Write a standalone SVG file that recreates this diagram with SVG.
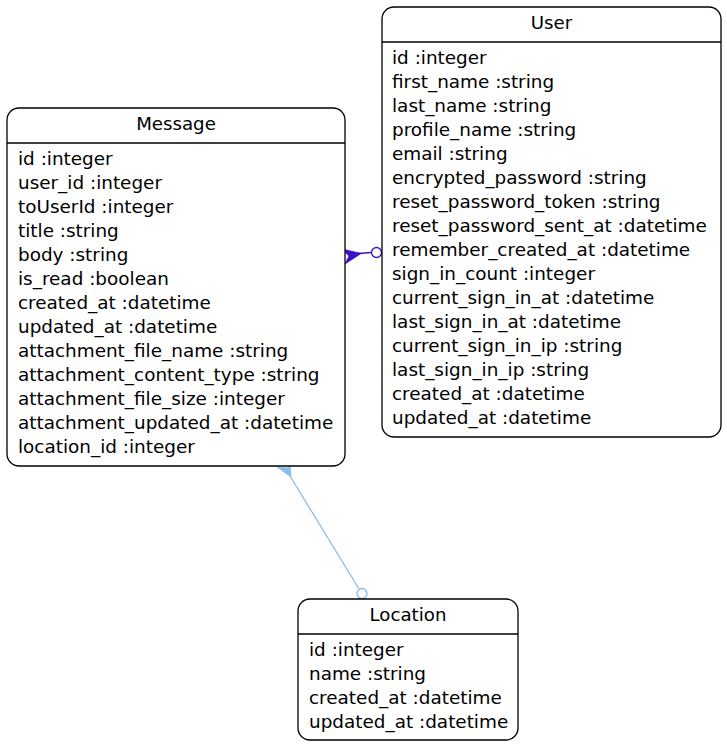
<svg xmlns="http://www.w3.org/2000/svg" width="727" height="747" viewBox="0 0 727 747">
<style>
.box{fill:#fff;stroke:#000;stroke-width:1.3}
.hd{font-family:"DejaVu Sans",sans-serif;font-size:18.2px;text-anchor:middle;fill:#000}
.f{font-family:"DejaVu Sans",sans-serif;font-size:18.4px;fill:#000}
</style>
<rect width="727" height="747" fill="#fff"/>
<g id="connectors">
<g id="e-message-user">
<line x1="358" y1="253.5" x2="371.5" y2="252.5" stroke="#3a10c8" stroke-width="1.3"/>
<path d="M342,249 L361,253.5 L345,264 L349,256 Z" fill="#3a10c8" stroke="#3a10c8" stroke-width="0.8" stroke-linejoin="round"/>
<circle cx="376.5" cy="252.5" r="5" fill="#fff" stroke="#3a10c8" stroke-width="1.3"/>
</g>
<g id="e-location-message">
<line x1="359" y1="589" x2="290" y2="476" stroke="#8bbde8" stroke-width="1.3"/>
<path d="M277,467 L291,477 L290,460 L288,468 Z" fill="#8bbde8" stroke="#8bbde8" stroke-width="0.8" stroke-linejoin="round"/>
<circle cx="362" cy="593.5" r="5" fill="#fff" stroke="#8bbde8" stroke-width="1.3"/>
</g>
</g>
<g id="node-message">
<rect class="box" x="7" y="108" width="338" height="358" rx="12"/>
<line x1="7" y1="143" x2="345" y2="143" stroke="#000" stroke-width="1.3"/>
<text class="hd" x="176" y="130">Message</text>
<text class="f" x="18" y="165">id :integer</text>
<text class="f" x="18" y="189">user_id :integer</text>
<text class="f" x="18" y="213">toUserId :integer</text>
<text class="f" x="18" y="237">title :string</text>
<text class="f" x="18" y="261">body :string</text>
<text class="f" x="18" y="285">is_read :boolean</text>
<text class="f" x="18" y="309">created_at :datetime</text>
<text class="f" x="18" y="333">updated_at :datetime</text>
<text class="f" x="18" y="357">attachment_file_name :string</text>
<text class="f" x="18" y="381">attachment_content_type :string</text>
<text class="f" x="18" y="405">attachment_file_size :integer</text>
<text class="f" x="18" y="429">attachment_updated_at :datetime</text>
<text class="f" x="18" y="453">location_id :integer</text>
</g>
<g id="node-user">
<rect class="box" x="382" y="7" width="339" height="430" rx="12"/>
<line x1="382" y1="42" x2="721" y2="42" stroke="#000" stroke-width="1.3"/>
<text class="hd" x="551.5" y="29">User</text>
<text class="f" x="392" y="64">id :integer</text>
<text class="f" x="392" y="88">first_name :string</text>
<text class="f" x="392" y="112">last_name :string</text>
<text class="f" x="392" y="136">profile_name :string</text>
<text class="f" x="392" y="160">email :string</text>
<text class="f" x="392" y="184">encrypted_password :string</text>
<text class="f" x="392" y="208">reset_password_token :string</text>
<text class="f" x="392" y="232">reset_password_sent_at :datetime</text>
<text class="f" x="392" y="256">remember_created_at :datetime</text>
<text class="f" x="392" y="280">sign_in_count :integer</text>
<text class="f" x="392" y="304">current_sign_in_at :datetime</text>
<text class="f" x="392" y="328">last_sign_in_at :datetime</text>
<text class="f" x="392" y="352">current_sign_in_ip :string</text>
<text class="f" x="392" y="376">last_sign_in_ip :string</text>
<text class="f" x="392" y="400">created_at :datetime</text>
<text class="f" x="392" y="424">updated_at :datetime</text>
</g>
<g id="node-location">
<rect class="box" x="298" y="599" width="220" height="141" rx="12"/>
<line x1="298" y1="634" x2="518" y2="634" stroke="#000" stroke-width="1.3"/>
<text class="hd" x="408" y="621">Location</text>
<text class="f" x="309" y="656">id :integer</text>
<text class="f" x="309" y="680">name :string</text>
<text class="f" x="309" y="704">created_at :datetime</text>
<text class="f" x="309" y="728">updated_at :datetime</text>
</g>
</svg>
